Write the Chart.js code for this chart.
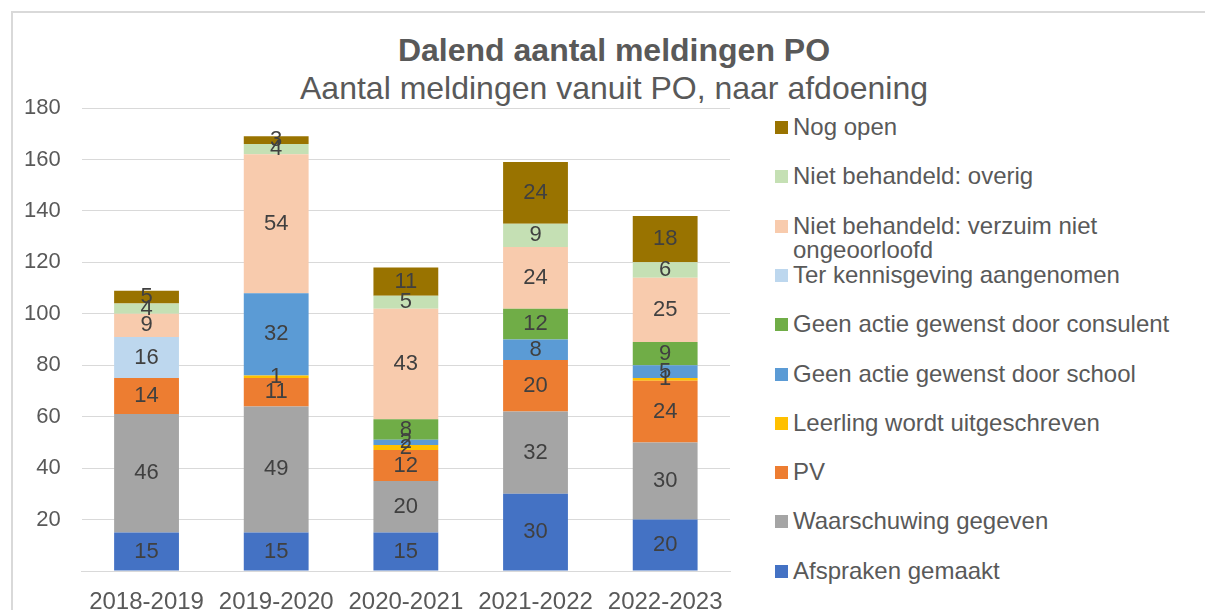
<!DOCTYPE html>
<html>
<head>
<meta charset="utf-8">
<script src="https://cdn.jsdelivr.net/npm/chart.js@4"></script>
<style>
  body { margin: 0; width: 1205px; height: 610px; overflow: hidden; background: #fff; font-family: "Liberation Sans", Arial, sans-serif; }
  #frame { position: absolute; left: 11px; top: 11px; width: 1300px; height: 700px; border: 1px solid #d9d9d9; border-width: 2px 0 0 2px; }
  .ttl { position: absolute; left: 0; width: 1228px; text-align: center; color: #595959; white-space: nowrap; }
  #title { top: 32px; font-size: 32px; font-weight: bold; }
  #subtitle { top: 70px; font-size: 32px; }
  #chartBox { position: absolute; left: 0; top: 0; }
  .lg { position: absolute; left: 775px; font-size: 24px; line-height: 24px; color: #595959; white-space: pre-line; }
  .lg span { position: absolute; left: 0; top: 6px; width: 13px; height: 13px; }
  .lg div { margin-left: 18px; }
</style>
</head>
<body>
<div id="frame"></div>
<div id="title" class="ttl">Dalend aantal meldingen PO</div>
<div id="subtitle" class="ttl">Aantal meldingen vanuit PO, naar afdoening</div>
<div id="chartBox"><canvas id="myChart" width="760" height="633"></canvas></div>
<div id="legend"></div>
<script>
const categories = ['2018-2019', '2019-2020', '2020-2021', '2021-2022', '2022-2023'];

const afspraken          = [15, 15, 15, 30, 20];
const waarschuwing       = [46, 49, 20, 32, 30];
const pv                 = [14, 11, 12, 20, 24];
const uitgeschreven      = [0, 1, 2, 0, 1];
const geenActieSchool    = [0, 32, 2, 8, 5];
const geenActieConsulent = [0, 0, 8, 12, 9];
const terKennisgeving    = [16, 0, 0, 0, 0];
const verzuim            = [9, 54, 43, 24, 25];
const overig             = [4, 4, 5, 9, 6];
const nogOpen            = [5, 3, 11, 24, 18];

const yTicks = [0, 20, 40, 60, 80, 100, 120, 140, 160, 180];

const series = [
    { label: 'Afspraken gemaakt', data: afspraken, color: '#4472C4' },
    { label: 'Waarschuwing gegeven', data: waarschuwing, color: '#A5A5A5' },
    { label: 'PV', data: pv, color: '#ED7D31' },
    { label: 'Leerling wordt uitgeschreven', data: uitgeschreven, color: '#FFC000' },
    { label: 'Geen actie gewenst door school', data: geenActieSchool, color: '#5B9BD5' },
    { label: 'Geen actie gewenst door consulent', data: geenActieConsulent, color: '#70AD47' },
    { label: 'Ter kennisgeving aangenomen', data: terKennisgeving, color: '#BDD7EE' },
    { label: 'Niet behandeld: verzuim niet\nongeoorloofd', data: verzuim, color: '#F8CBAD' },
    { label: 'Niet behandeld: overig', data: overig, color: '#C5E0B4' },
    { label: 'Nog open', data: nogOpen, color: '#997300' }
];

// waarden midden in elk segment
const valueLabels = {
    id: 'valueLabels',
    afterDatasetsDraw(chart) {
        const c = chart.ctx;
        c.save();
        c.font = '22px "Liberation Sans", Arial, sans-serif';
        c.fillStyle = '#404040';
        c.textAlign = 'center';
        c.textBaseline = 'middle';
        chart.data.datasets.forEach((ds, i) => {
            chart.getDatasetMeta(i).data.forEach((bar, j) => {
                if (!ds.data[j]) return;
                c.fillText(ds.data[j], bar.x, (bar.y + bar.base) / 2);
            });
        });
        c.restore();
    }
};

const ctx = document.querySelector('#myChart');
const myChart = new Chart(ctx, {
    type: 'bar',
    data: {
        labels: categories,
        datasets: series.map(s => ({
            label: s.label,
            data: s.data,
            backgroundColor: s.color,
            borderWidth: 0,
            categoryPercentage: 1,
            barPercentage: 0.5
        }))
    },
    options: {
        responsive: false,
        animation: false,
        layout: { padding: { left: 3, right: 30, top: 108, bottom: 0 } },
        plugins: { legend: { display: false }, tooltip: { enabled: false } },
        scales: {
            x: {
                stacked: true,
                grid: { display: false, drawTicks: false },
                border: { display: true, color: '#d9d9d9' },
                ticks: { color: '#595959', padding: 19, font: { size: 24, family: '"Liberation Sans", Arial', lineHeight: 1 } }
            },
            y: {
                stacked: true,
                min: yTicks[0],
                max: yTicks[yTicks.length - 1],
                afterBuildTicks: axis => { axis.ticks = yTicks.map(v => ({ value: v })); },
                grid: { color: '#d9d9d9', drawTicks: false },
                border: { display: false },
                ticks: {
                    color: '#595959',
                    padding: 21,
                    font: { size: 22, family: '"Liberation Sans", Arial' },
                    callback: v => v === 0 ? '' : v
                }
            }
        }
    },
    plugins: [valueLabels]
});

// legenda, omgekeerde volgorde
const legend = document.querySelector('#legend');
series.slice().reverse().forEach((s, i) => {
    const item = document.createElement('div');
    item.className = 'lg';
    item.style.top = (127 + i * 49.3 - 12) + 'px';
    item.innerHTML = '<span style="background:' + s.color + '"></span><div></div>';
    item.querySelector('div').textContent = s.label;
    legend.appendChild(item);
});
</script>
</body>
</html>
